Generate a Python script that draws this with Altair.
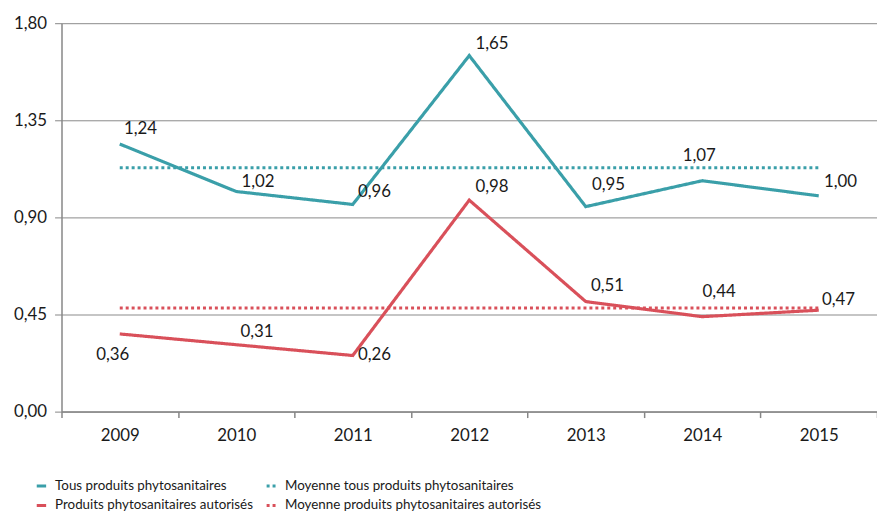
import altair as alt
import pandas as pd

years = ["2009", "2010", "2011", "2012", "2013", "2014", "2015"]
tous = [1.24, 1.02, 0.96, 1.65, 0.95, 1.07, 1.00]
autorises = [0.36, 0.31, 0.26, 0.98, 0.51, 0.44, 0.47]
moyenne_tous = 1.13
moyenne_autorises = 0.48

series_names = [
    "Tous produits phytosanitaires",
    "Produits phytosanitaires autorisés",
    "Moyenne tous produits phytosanitaires",
    "Moyenne produits phytosanitaires autorisés",
]
colors = ["#3A9FA9", "#D9505A", "#3A9FA9", "#D9505A"]
dashes = [[1, 0], [1, 0], [3, 3], [3, 3]]

# label offsets (layout only)
off_tous = [(21, -15), (22, -10), (22, -13), (23, -12), (23, -22), (-3, -25), (22, -14)]
off_aut = [(-7, 21), (21, -13), (22, 0), (23, -13), (22, -16), (17, -25), (20, -10)]

rows = []
for i, y in enumerate(years):
    rows.append({"annee": y, "serie": series_names[0], "valeur": tous[i]})
    rows.append({"annee": y, "serie": series_names[2], "valeur": moyenne_tous})
    rows.append({"annee": y, "serie": series_names[1], "valeur": autorises[i]})
    rows.append({"annee": y, "serie": series_names[3], "valeur": moyenne_autorises})
df = pd.DataFrame(rows)

FONT = "Lato"
TXT = "#1a1a1a"

x = alt.X("annee:N", title=None, sort=years,
          scale=alt.Scale(paddingInner=0, paddingOuter=0),
          axis=alt.Axis(labelAngle=0, tickBand="extent", labelFontSize=17,
                        labelPadding=10, tickSize=6, domainColor="#868686",
                        tickColor="#868686", labelColor=TXT, domainWidth=1.5,
                        tickWidth=1.5, labelFont=FONT))
y = alt.Y("valeur:Q", title=None,
          scale=alt.Scale(domain=[0, 1.8], nice=False),
          axis=alt.Axis(values=[0, 0.45, 0.9, 1.35, 1.8],
                        labelExpr="replace(format(datum.value, '.2f'), '.', ',')",
                        labelFontSize=17, labelPadding=8, tickSize=7,
                        gridColor="#8a8a8a", gridWidth=1, domainColor="#868686",
                        domainWidth=1.5, tickColor="#868686", labelColor=TXT,
                        labelFont=FONT))

leg = dict(title=None, orient="none", legendX=-27, legendY=460, columns=2,
           symbolType="stroke", symbolStrokeWidth=3, symbolSize=90,
           labelFontSize=13.5, labelFont=FONT, labelColor=TXT,
           columnPadding=7, rowPadding=5, labelLimit=400, labelOffset=7)

lines = alt.Chart(df).mark_line(strokeWidth=3.2).encode(
    x=x, y=y,
    color=alt.Color("serie:N", scale=alt.Scale(domain=series_names, range=colors),
                    legend=alt.Legend(**leg)),
    strokeDash=alt.StrokeDash("serie:N", scale=alt.Scale(domain=series_names, range=dashes),
                              legend=alt.Legend(**leg)),
    detail="serie:N",
)

layers = [lines]
for i, yr in enumerate(years):
    for vals, offs in ((tous, off_tous), (autorises, off_aut)):
        lbl = pd.DataFrame({"annee": [yr], "valeur": [vals[i]]})
        t = alt.Chart(lbl).mark_text(dx=offs[i][0], dy=offs[i][1], fontSize=17,
                                     font=FONT, color=TXT).encode(
            x=alt.X("annee:N", sort=years),
            y=alt.Y("valeur:Q"),
            text=alt.Text("txt:N"),
        ).transform_calculate(txt="replace(format(datum.valeur, '.2f'), '.', ',')")
        layers.append(t)

chart = alt.layer(*layers).properties(
    width=823, height=392,
    autosize=alt.AutoSizeParams(type="none"),
    padding={"left": 54, "top": 13, "right": 0, "bottom": 102},
).configure_view(stroke=None).configure_axisX(grid=False)

chart.save("out.html", embed_options={"renderer": "svg", "actions": False})
